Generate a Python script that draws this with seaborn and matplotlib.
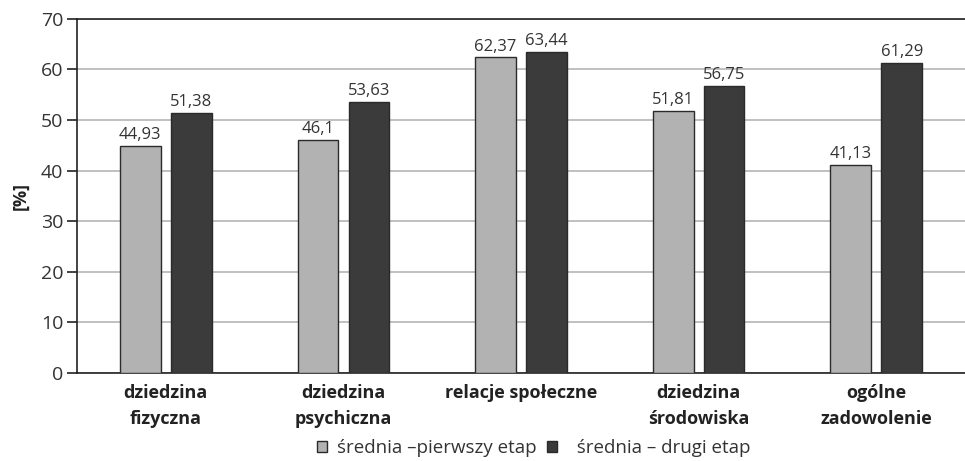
import matplotlib
matplotlib.use("Agg")
import matplotlib.pyplot as plt
import seaborn as sns
import pandas as pd
from matplotlib.patches import Patch

categories = ["dziedzina\nfizyczna", "dziedzina\npsychiczna", "relacje społeczne",
              "dziedzina\nśrodowiska", "ogólne\nzadowolenie"]
series_names = ["średnia –pierwszy etap", "średnia – drugi etap"]
first_stage = [44.93, 46.1, 62.37, 51.81, 41.13]
second_stage = [51.38, 53.63, 63.44, 56.75, 61.29]
yticks = [0, 10, 20, 30, 40, 50, 60, 70]

colors = ["#b2b2b2", "#3b3b3b"]
edge = "#2a2a2a"

sns.set_theme(style="white")
plt.rcParams["font.family"] = ["Open Sans", "DejaVu Sans"]

df = pd.DataFrame({
    "kategoria": categories * 2,
    "seria": [series_names[0]] * len(categories) + [series_names[1]] * len(categories),
    "wartosc": first_stage + second_stage,
})

fig = plt.figure(figsize=(9.65, 4.61), dpi=100)
ax = fig.add_axes([0.0798, 0.191, 0.9202, 0.768])

sns.barplot(data=df, x="kategoria", y="wartosc", hue="seria", order=categories,
            hue_order=series_names, palette=colors, width=0.574, gap=0.2,
            edgecolor=edge, linewidth=1.0, errorbar=None, legend=False, ax=ax,
            zorder=3)

for container, vals in zip(ax.containers, [first_stage, second_stage]):
    labels = [f"{v:g}".replace(".", ",") for v in vals]
    ax.bar_label(container, labels=labels, padding=2, fontsize=12, color="#333333")

ax.set_xlim(-0.5, len(categories) - 0.5)
ax.set_ylim(0, 70)
ax.set_yticks(yticks)
ax.set_yticklabels([str(t) for t in yticks], fontsize=14, color="#333333")
ax.yaxis.grid(True, color="#b5b5b5", linewidth=1.2, zorder=0)
ax.set_axisbelow(True)
ax.spines["right"].set_visible(False)
for s in ["left", "top", "bottom"]:
    ax.spines[s].set_visible(True)
    ax.spines[s].set_color("#222222")
    ax.spines[s].set_linewidth(1.2)
ax.tick_params(axis="y", length=7, width=1.2, color="#222222", left=True, pad=3)
ax.tick_params(axis="x", length=0, pad=8)
ax.set_xticks(range(len(categories)))
ax.set_xticklabels(categories, fontsize=13, fontweight="bold", color="#222222",
                   linespacing=1.6)
ax.set_xlabel("")
ax.set_ylabel("[%]", fontsize=13, fontweight="bold", color="#222222", labelpad=8)

handles = [Patch(facecolor=c, edgecolor=edge, linewidth=1.0) for c in colors]
legend_labels = [series_names[0], "  " + series_names[1]]
fig.legend(handles, legend_labels, loc="lower center", bbox_to_anchor=(0.553, -0.028),
           ncol=2, frameon=False, fontsize=13.5, handlelength=0.53, handleheight=0.53,
           handletextpad=0.53, columnspacing=0.53, labelcolor="#333333")

fig.savefig("out.png", dpi=100)
